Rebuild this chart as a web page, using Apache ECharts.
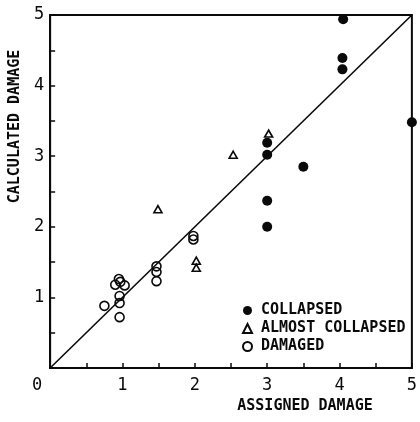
<!DOCTYPE html>
<html><head><meta charset="utf-8">
<script src="https://cdn.jsdelivr.net/npm/echarts@6/dist/echarts.min.js"></script>
<style>html,body{margin:0;padding:0;background:#fff}#c{width:420px;height:422px}</style>
</head><body><div id="c"></div>
<script>
const collapsed = [[4.05,4.94],[4.04,4.39],[4.04,4.23],[5.0,3.48],[3.0,3.19],[3.0,3.02],[3.5,2.85],[3.0,2.37],[3.0,2.0]];
const almostCollapsed = [[3.02,3.32],[2.53,3.02],[1.49,2.25],[2.02,1.52],[2.02,1.42]];
const damaged = [[0.75,0.88],[0.96,0.72],[0.96,0.92],[0.96,1.02],[0.9,1.18],[0.95,1.26],[0.97,1.22],[1.03,1.17],[1.47,1.44],[1.47,1.36],[1.47,1.23],[1.98,1.87],[1.98,1.82]];
const diagonal = [[0,0],[5,5]];
const seriesNames = ['COLLAPSED','ALMOST COLLAPSED','DAMAGED'];
const xTitle = 'ASSIGNED DAMAGE';
const yTitle = 'CALCULATED DAMAGE';

const mono = 'DejaVu Sans Mono';
const ink = '#0a0a0a';
const chart = echarts.init(document.getElementById('c'), null, {renderer:'canvas'});
const axisCommon = {
  min:0, max:5, interval:0.5,
  axisLine:{show:true, lineStyle:{color:ink, width:2}},
  axisTick:{show:true, inside:true, length:5, lineStyle:{color:ink, width:1.5}},
  splitLine:{show:false}
};
const titleStyle = {fontFamily:mono, fontWeight:'bold', fontSize:15, color:ink};
chart.setOption({
  animation:false,
  backgroundColor:'#fff',
  grid:{left:50, right:6, top:15, bottom:54, show:true, borderColor:ink, borderWidth:2},
  xAxis:Object.assign({}, axisCommon, {
    type:'value',
    name:xTitle, nameLocation:'middle', nameGap:30,
    nameTextStyle:Object.assign({}, titleStyle, {padding:[0,0,0,148]}),
    axisLabel:{
      margin:9, fontFamily:mono, fontSize:17, color:ink,
      formatter:function(v){ if (v===0) return '{z|0}'; return (v%1===0)? String(v) : ''; },
      rich:{z:{fontFamily:mono, fontSize:17, color:ink, padding:[0,26,0,0]}}
    }
  }),
  yAxis:Object.assign({}, axisCommon, {
    type:'value',
    name:yTitle, nameLocation:'middle', nameGap:20, nameRotate:90,
    nameTextStyle:Object.assign({}, titleStyle, {padding:[0,0,0,130]}),
    axisLabel:{
      margin:6, fontFamily:mono, fontSize:17, color:ink,
      formatter:function(v){ return (v%1===0 && v!==0)? String(v) : ''; }
    }
  }),
  legend:{
    orient:'vertical', left:237, top:298, itemWidth:9, itemHeight:9, itemGap:3,
    data:seriesNames,
    textStyle:{fontFamily:mono, fontWeight:'bold', fontSize:15, color:ink, lineHeight:15, padding:[0,0,0,4]}
  },
  series:[
    {type:'line', data:diagonal, symbol:'none', lineStyle:{color:ink, width:1.6}, silent:true, z:1},
    {name:seriesNames[0], type:'scatter', data:collapsed, symbol:'circle', symbolSize:10,
     itemStyle:{color:ink, borderColor:ink, borderWidth:0, opacity:1}, z:3},
    {name:seriesNames[1], type:'scatter', data:almostCollapsed, symbol:'triangle', symbolSize:[8,7],
     itemStyle:{color:'#fff', borderColor:ink, borderWidth:1.6, opacity:1}, z:3},
    {name:seriesNames[2], type:'scatter', data:damaged, symbol:'circle', symbolSize:9,
     itemStyle:{color:'rgba(255,255,255,0)', borderColor:ink, borderWidth:1.6, opacity:1}, z:3}
  ]
});
</script></body></html>
